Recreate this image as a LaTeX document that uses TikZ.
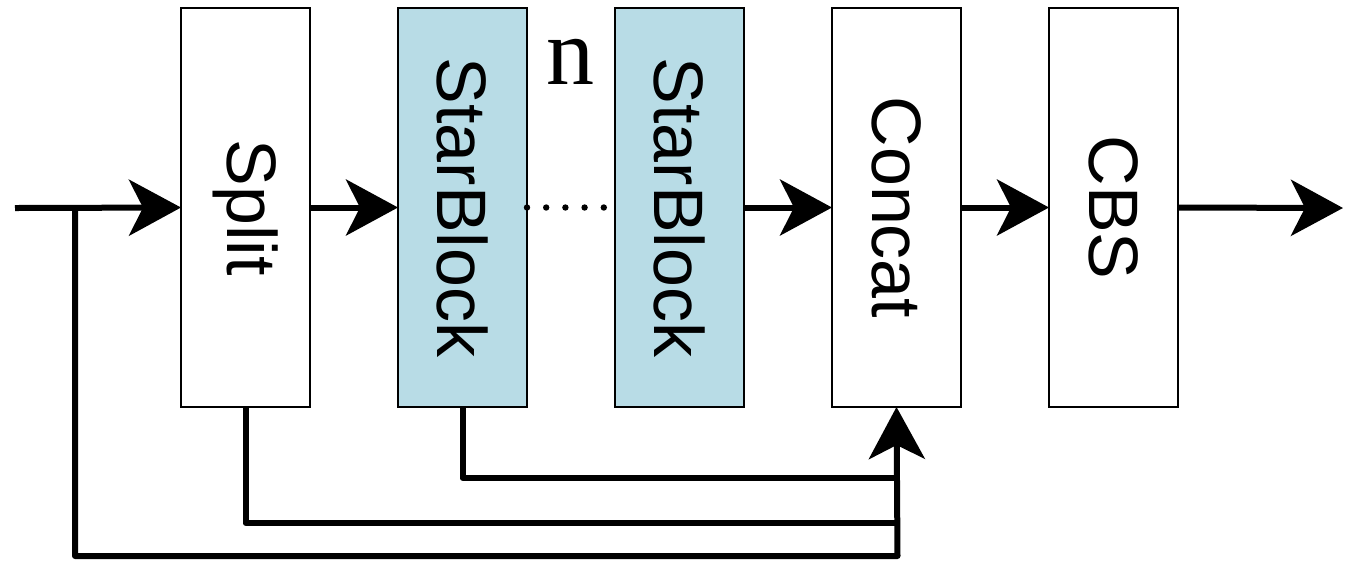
\documentclass[tikz,border=0pt]{standalone}
\usepackage{fontspec}
\setmainfont{Liberation Sans}
\newfontfamily\nfont{Liberation Serif}
\usepackage{tikz}
\usetikzlibrary{calc,positioning,arrows.meta}
\definecolor{starfill}{RGB}{184,220,230}
\tikzset{
 csp block/.style={draw=black,line width=0.8pt,fill=white,minimum width=64.5pt,
                   minimum height=199.5pt,inner sep=0pt,outer sep=0pt},
 csp star/.style={csp block,fill=starfill},
 csp text/.style={rotate=-90,font=\fontsize{35}{40}\selectfont,inner sep=0pt},
 csp flow/.style={line width=3pt,line join=round,
                  -{Stealth[length=26pt,width=28pt,inset=7pt]}},
 csp wire/.style={line width=3pt,line join=round},
 csp dots/.style={line width=3.2pt,line cap=round,dash pattern=on 0pt off 9.6pt}
}
\begin{document}
\begin{tikzpicture}[x=0.5pt,y=-0.5pt]
 \useasboundingbox (0,0) rectangle (1356,570);
 \node[csp block] (split) at (245.5,207.5) {};
 \node[csp star,right=44pt of split] (sb1) {};
 \node[csp star,right=44pt of sb1] (sb2) {};
 \node[csp block,right=44pt of sb2] (concat) {};
 \node[csp block,right=44pt of concat] (cbs) {};
 \foreach \b/\t in {split/Split,sb1/StarBlock,sb2/StarBlock,concat/Concat,cbs/CBS}
   \node[csp text] (\b-t) at (\b) {\t};
 \node[font=\nfont\fontsize{48}{50}\selectfont,inner sep=0pt] (rep) at (570,62) {n};

 \coordinate (in) at (15,208);
 \coordinate (tap) at (75,208);
 \coordinate (out) at (1343,208);
 \coordinate (join) at (897.5,556);

 % main path
 \draw[csp flow] (in) -- (split.west);
 \draw[csp flow] (split.east) -- (sb1.west);
 \draw[csp dots] (sb1.east) -- ++(38.5pt,0) coordinate (dotend);
 \draw[csp flow] (sb2.east) -- (concat.west);
 \draw[csp flow] (concat.east) -- (cbs.west);
 \draw[csp flow] (cbs.east) -- (out);

 % skip connections into Concat
 \draw[csp flow] (tap) |- (join) -- (concat.south);
 \draw[csp wire] (split.south) |- (join |- 0,523);
 \draw[csp wire] (sb1.south) |- (join |- 0,478);
\end{tikzpicture}
\end{document}
